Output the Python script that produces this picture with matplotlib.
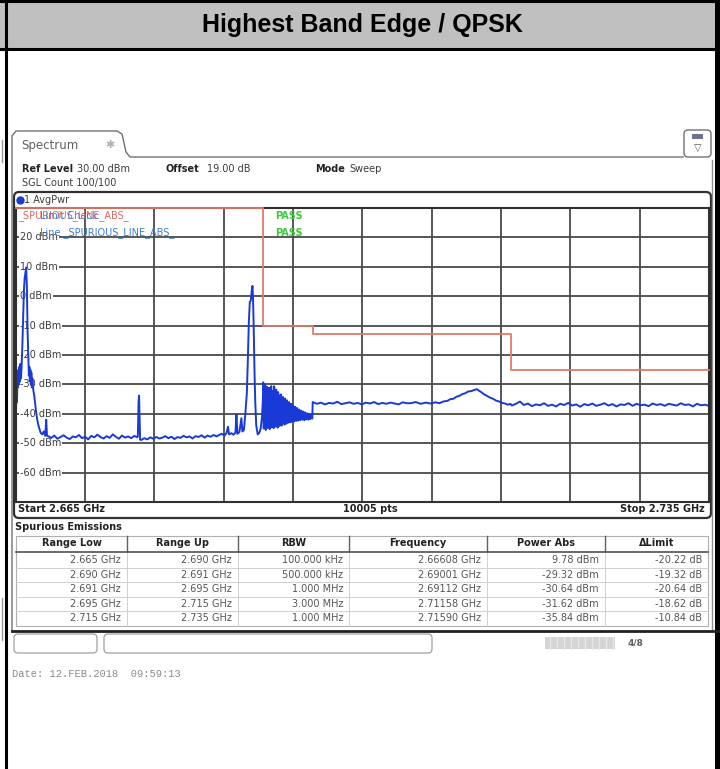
import numpy as np
import matplotlib.pyplot as plt
from matplotlib.patches import FancyBboxPatch, Rectangle
from matplotlib.transforms import blended_transform_factory

# spurious emissions table
range_low = [2.665, 2.690, 2.691, 2.695, 2.715]     # GHz
range_up = [2.690, 2.691, 2.695, 2.715, 2.735]      # GHz
rbw = ['100.000 kHz', '500.000 kHz', '1.000 MHz', '3.000 MHz', '1.000 MHz']
peak_freq = [2.66608, 2.69001, 2.69112, 2.71158, 2.71590]   # GHz
power_abs = [9.78, -29.32, -30.64, -31.62, -35.84]          # dBm
delta_limit = [-20.22, -19.32, -20.64, -18.62, -10.84]      # dB

y_levels = [20, 10, 0, -10, -20, -30, -40, -50, -60]

# trace (MHz, dBm)
carrier_f = [2665.00, 2665.05, 2665.10, 2665.15, 2665.20, 2665.25, 2665.30, 2665.35,
             2665.40, 2665.45, 2665.50, 2665.55, 2665.60, 2665.65, 2665.70, 2665.78,
             2665.85, 2665.92, 2666.00, 2666.08, 2666.15, 2666.22, 2666.30, 2666.35,
             2666.40, 2666.45, 2666.50, 2666.55, 2666.60, 2666.65, 2666.70, 2666.80,
             2666.90, 2667.00, 2667.10, 2667.25, 2667.40, 2667.55, 2667.70, 2667.85,
             2668.00, 2668.10, 2668.18]
carrier_db = [-42, -39, -33, -36, -28, -31, -25, -30,
              -24, -29, -23, -28, -25, -21, -16, -6,
              2, 6, 8, 9.78, 3, -12, -22, -27,
              -24, -29, -25, -30, -26, -31, -28, -32,
              -34, -37, -40, -43, -45, -46.5, -47, -46,
              -47.5, -42, -47.5]

floor1_db = [-47.6, -48.2, -47.4, -48.5, -47.9, -47.3, -48.1, -48.6, -47.7, -48.0,
             -47.2, -48.3, -47.8, -48.7, -47.5, -48.0, -47.1, -47.9, -48.4, -47.6,
             -48.2, -47.0, -47.8, -48.5, -47.4, -48.1, -47.7, -48.3, -47.5, -48.0]
floor1_span = (2668.3, 2677.3)

spur_f = [2677.35, 2677.42, 2677.47, 2677.52, 2677.58]
spur_db = [-47.5, -36.0, -33.8, -40.0, -48.8]

floor2_db = [-48.9, -48.3, -48.7, -48.0, -48.5, -47.9, -48.4, -48.1, -47.6, -48.3,
             -47.8, -48.6, -47.9, -48.2, -47.5, -48.0, -47.7, -48.4, -47.6, -47.9,
             -47.3, -48.1, -47.4, -47.8, -47.2, -47.7]
floor2_span = (2677.7, 2685.3)

edge_f = [2685.5, 2685.8, 2686.1, 2686.3, 2686.45, 2686.55, 2686.8, 2687.0, 2687.2,
          2687.3, 2687.4, 2687.6, 2687.8, 2687.9, 2688.05, 2688.2, 2688.35, 2688.45,
          2688.55, 2688.65, 2688.75, 2688.85, 2688.92, 2688.98, 2689.05, 2689.12,
          2689.2, 2689.3, 2689.45, 2689.6, 2689.75, 2689.88, 2689.96]
edge_db = [-47.3, -46.8, -47.4, -46.5, -44.4, -47.0, -46.6, -47.1, -46.4,
           -40.2, -46.8, -46.2, -41.5, -46.0, -45.5, -40.0, -33.0, -22.0,
           -9.0, -2.0, -1.5, 2.0, 3.5, -1.0, -12.0, -25.0,
           -36.0, -44.0, -47.0, -46.5, -45.0, -41.0, -36.0]

skirt_db = [-29.32, -45.0, -31.5, -44.2, -30.2, -45.5, -32.8, -43.6, -30.9, -44.8,
            -33.5, -44.0, -31.2, -45.2, -32.0, -43.2, -30.6, -44.6, -33.9, -43.8,
            -32.2, -44.9, -30.64, -43.5, -33.0, -44.3, -31.8, -43.0, -34.2, -44.7,
            -32.6, -43.4, -33.7, -44.1, -35.0, -42.8, -33.4, -44.0, -35.6, -43.1,
            -34.3, -42.6, -36.2, -43.7, -34.8, -42.4, -36.9, -43.3, -35.4, -42.2,
            -37.3, -43.0, -36.0, -42.0, -37.8, -42.9, -36.6, -41.8, -38.2, -42.7,
            -37.1, -41.6, -38.6, -42.5, -37.6, -41.5, -39.0, -42.4, -38.0, -41.3,
            -39.3, -42.3, -38.5, -41.2, -39.6, -42.1, -38.9, -41.0, -39.9, -42.0,
            -39.2, -41.1, -40.1, -42.2, -39.5, -41.0, -40.3, -41.9, -39.8, -41.2,
            -40.5, -42.0, -40.0, -41.4, -40.6, -41.8, -40.2, -41.3, -40.8, -41.6]
skirt_span = (2690.01, 2694.96)

plateau_db = [-36.0, -36.6, -36.2, -36.8, -36.3, -36.5, -35.9, -36.7, -36.4, -36.1,
              -36.6, -36.3, -36.8, -36.2, -36.5, -36.0, -36.7, -36.3, -36.6, -36.2,
              -36.5, -36.8, -36.1, -36.4]
plateau_span = (2695.0, 2704.5)

hump_f = [2704.9, 2705.4, 2705.9, 2706.4, 2706.9, 2707.4, 2707.8, 2708.2, 2708.6,
          2708.9, 2709.2, 2709.5, 2709.8, 2710.1, 2710.4, 2710.7, 2711.0, 2711.3,
          2711.58, 2711.8, 2712.0, 2712.3, 2712.6, 2712.9, 2713.2, 2713.5, 2713.8,
          2714.1, 2714.4, 2714.7, 2714.95]
hump_db = [-36.4, -36.0, -36.6, -36.2, -36.5, -36.1, -36.4, -35.8, -35.6,
           -35.0, -34.9, -34.2, -33.9, -33.3, -33.0, -32.4, -32.3, -31.9,
           -31.62, -32.2, -32.6, -33.4, -33.9, -34.5, -34.9, -35.5, -35.8,
           -36.3, -36.5, -36.9, -36.6]

tail_db = [-37.2, -36.6, -35.84, -37.0, -36.5, -37.4, -36.8, -37.1, -36.4, -37.3,
           -36.9, -37.5, -36.6, -37.0, -36.3, -37.2, -36.8, -37.6, -36.7, -37.1,
           -36.5, -37.3, -36.9, -36.4, -37.2, -36.7, -37.5, -36.8, -37.0, -36.4,
           -37.3, -36.6, -37.1, -36.9, -37.4, -36.5, -37.0, -36.7, -37.3, -36.6,
           -36.9, -37.2, -36.4, -37.0, -36.8, -37.5, -36.6, -37.1, -36.9, -37.3]
tail_span = (2715.1, 2735.0)


def sweep(span, levels):
    # analyzer sweep points are evenly spaced
    return list(np.linspace(span[0], span[1], len(levels)))

freq = (carrier_f + sweep(floor1_span, floor1_db) + spur_f + sweep(floor2_span, floor2_db)
        + edge_f + sweep(skirt_span, skirt_db) + sweep(plateau_span, plateau_db)
        + hump_f + sweep(tail_span, tail_db))
level = (carrier_db + floor1_db + spur_db + floor2_db + edge_db + skirt_db
         + plateau_db + hump_db + tail_db)

# limit line = measured power - delta limit, per range
limit = [round(p - d, 2) for p, d in zip(power_abs, delta_limit)]
lim_f, lim_db = [], []
for lo, up, lv in zip(range_low, range_up, limit):
    lim_f += [lo * 1000, up * 1000]
    lim_db += [lv, lv]

W, H = 720, 769
fig = plt.figure(figsize=(W / 100, H / 100), dpi=100)

# pixel overlay for the page / screenshot furniture
ov = fig.add_axes([0, 0, 1, 1])
ov.set_xlim(0, W)
ov.set_ylim(H, 0)
ov.axis('off')

txt = '#3c3c3c'

# table header of the report page
ov.add_patch(Rectangle((0, 1), 715, 47, facecolor='#c0c0c0', edgecolor='none'))
ov.plot([0, 720], [1, 1], color='black', lw=2.2)
ov.plot([0, 720], [48.5, 48.5], color='black', lw=2.2)
ov.plot([6, 6], [0, 769], color='black', lw=2.2)
ov.add_patch(Rectangle((715, 0), 5, 769, facecolor='black', edgecolor='none'))
ov.text(362, 25, 'Highest Band Edge / QPSK', fontsize=18, fontweight='bold',
        family='Liberation Sans', ha='center', va='center', color='black')
ov.plot([1.5, 1.5], [140, 162], color='#999999', lw=1)
ov.plot([1.5, 1.5], [598, 640], color='#999999', lw=1)

# spectrum window with tab
ov.plot([12, 12, 16, 117, 122, 126, 130, 683],
        [632, 136, 131, 131, 134, 152, 157, 157], color='#707070', lw=1)
ov.plot([712, 712], [160, 630], color='#909090', lw=1)
ov.text(21, 146, 'Spectrum', fontsize=8.5, color='#606060', va='center')
ov.text(110, 145, '\u2731', fontsize=8, color='#b0b0b0', va='center', ha='center')
ov.add_patch(FancyBboxPatch((684, 130), 27, 27, boxstyle='round,pad=0,rounding_size=4',
                            facecolor='white', edgecolor='#707070', lw=1))
ov.add_patch(Rectangle((692, 134), 11, 5, facecolor='#707090', edgecolor='none'))
ov.text(697.5, 148, '\u25bd', fontsize=7, color='#505070', ha='center', va='center')

ov.text(22, 169, 'Ref Level', fontsize=7, fontweight='bold', color='#222222', va='center')
ov.text(77, 169, '30.00 dBm', fontsize=7, color=txt, va='center')
ov.text(165, 169, 'Offset', fontsize=7, fontweight='bold', color='#222222', va='center')
ov.text(207, 169, '19.00 dB', fontsize=7, color=txt, va='center')
ov.text(315, 169, 'Mode', fontsize=7, fontweight='bold', color='#222222', va='center')
ov.text(349, 169, 'Sweep', fontsize=7, color=txt, va='center')
ov.text(22, 183, 'SGL Count 100/100', fontsize=7, color=txt, va='center')

# trace window frame
ov.add_patch(FancyBboxPatch((14, 192), 697, 326, boxstyle='round,pad=0,rounding_size=5',
                            facecolor='white', edgecolor='#303030', lw=1.6))
ov.plot([19.5], [200], 'o', ms=5, color='#1a3ad8')
ov.text(24, 200, '1 AvgPwr', fontsize=7, color=txt, va='center')
ov.text(18, 509, 'Start 2.665 GHz', fontsize=7, fontweight='bold', color='#222222', va='center')
ov.text(370, 509, '10005 pts', fontsize=7, fontweight='bold', color='#222222',
        va='center', ha='center')
ov.text(705, 509, 'Stop 2.735 GHz', fontsize=7, fontweight='bold', color='#222222',
        va='center', ha='right')

# spurious emissions table
ov.text(15, 527, 'Spurious Emissions', fontsize=7, fontweight='bold', color='#222222',
        va='center')
col_x = [16, 127, 238, 349, 487, 605, 708]
heads = ['Range Low', 'Range Up', 'RBW', 'Frequency', 'Power Abs', '\u0394Limit']
row_y = [560, 575, 589, 604, 618]
ov.add_patch(Rectangle((16, 536), 692, 90, facecolor='white', edgecolor='#b0b0b0', lw=0.8))
for i, h in enumerate(heads):
    ov.text((col_x[i] + col_x[i + 1]) / 2, 543.5, h, fontsize=7, fontweight='bold',
            color='#222222', ha='center', va='center')
for x in col_x[1:-1]:
    ov.plot([x, x], [536, 551], color='#606060', lw=1)
    ov.plot([x, x], [552, 626], color='#d0d0d0', lw=0.7)
ov.plot([16, 708], [551.5, 551.5], color='#505050', lw=1.2)
for y in [567.5, 582, 596.5, 611]:
    ov.plot([16, 708], [y, y], color='#d0d0d0', lw=0.7)
cells = [[f'{v:.3f} GHz' for v in range_low], [f'{v:.3f} GHz' for v in range_up], rbw,
         [f'{v:.5f} GHz' for v in peak_freq], [f'{v:.2f} dBm' for v in power_abs],
         [f'{v:.2f} dB' for v in delta_limit]]
for c, col in enumerate(cells):
    for r, s in enumerate(col):
        ov.text(col_x[c + 1] - 6, row_y[r], s, fontsize=7, color='#555555',
                ha='right', va='center')
ov.plot([12, 720], [630.5, 630.5], color='#202020', lw=2)

# status bar
ov.add_patch(FancyBboxPatch((14, 634), 83, 19, boxstyle='round,pad=0,rounding_size=4',
                            facecolor='white', edgecolor='#a0a0a0', lw=0.9))
ov.add_patch(FancyBboxPatch((104, 634), 328, 19, boxstyle='round,pad=0,rounding_size=4',
                            facecolor='white', edgecolor='#a0a0a0', lw=0.9))
ov.add_patch(Rectangle((545, 637), 70, 12, facecolor='#d4d4d4', edgecolor='none'))
for x in range(550, 615, 7):
    ov.plot([x, x], [637, 649], color='#e8e8e8', lw=1)
ov.text(635, 643, '4/8', fontsize=6.5, fontweight='bold', color='#606060',
        ha='center', va='center')
ov.text(12, 674, 'Date: 12.FEB.2018  09:59:13', fontsize=7.5, family='Liberation Mono',
        color='#8a8a8a', va='center')

# spectrum plot area: 30 dBm at y=208 px, -70 dBm at y=502 px
ax = fig.add_axes([15.5 / W, 1 - 502 / H, 693.5 / W, 294 / H])
ax.set_xlim(2665, 2735)
ax.set_ylim(-70, 30)
ax.set_xticks(np.linspace(2665, 2735, 11))
ax.set_yticks(np.arange(-70, 31, 10))
ax.tick_params(length=0, labelbottom=False, labelleft=False)
ax.set_axisbelow(True)
ax.grid(True, color='#4a4a4a', lw=1.3)
for s in ax.spines.values():
    s.set_color('#303030')
    s.set_linewidth(1.5)

lab_tr = blended_transform_factory(ax.transAxes, ax.transData)
for v in y_levels:
    ax.text(0.0065, v, f'{v} dBm', transform=lab_tr, fontsize=7, color=txt, va='center',
            ha='left', zorder=1, bbox=dict(facecolor='white', edgecolor='none', pad=0.6))

ax.text(18, 216, '_SPURIOUS_LINE_ABS_', transform=ov.transData, fontsize=7,
        color='#e06a5c', va='center', zorder=1.5)
ax.text(40, 216, 'Limit Check', transform=ov.transData, fontsize=7,
        color='#3b7fd4', va='center', zorder=1.6)
ax.text(40, 232.5, 'Line _SPURIOUS_LINE_ABS_', transform=ov.transData, fontsize=7,
        color='#3b7fd4', va='center', zorder=1.6)
for y in [216, 232.5]:
    ax.text(275, y, 'PASS', transform=ov.transData, fontsize=7, fontweight='bold',
            color='#3ec83e', va='center', zorder=1.6)

ax.plot(freq, level, color='#1a3ad8', lw=1.4, zorder=2)
ax.plot(lim_f, lim_db, color='#e07a6a', lw=1.3, zorder=3, clip_on=False)

fig.savefig('out.png', dpi=100)
